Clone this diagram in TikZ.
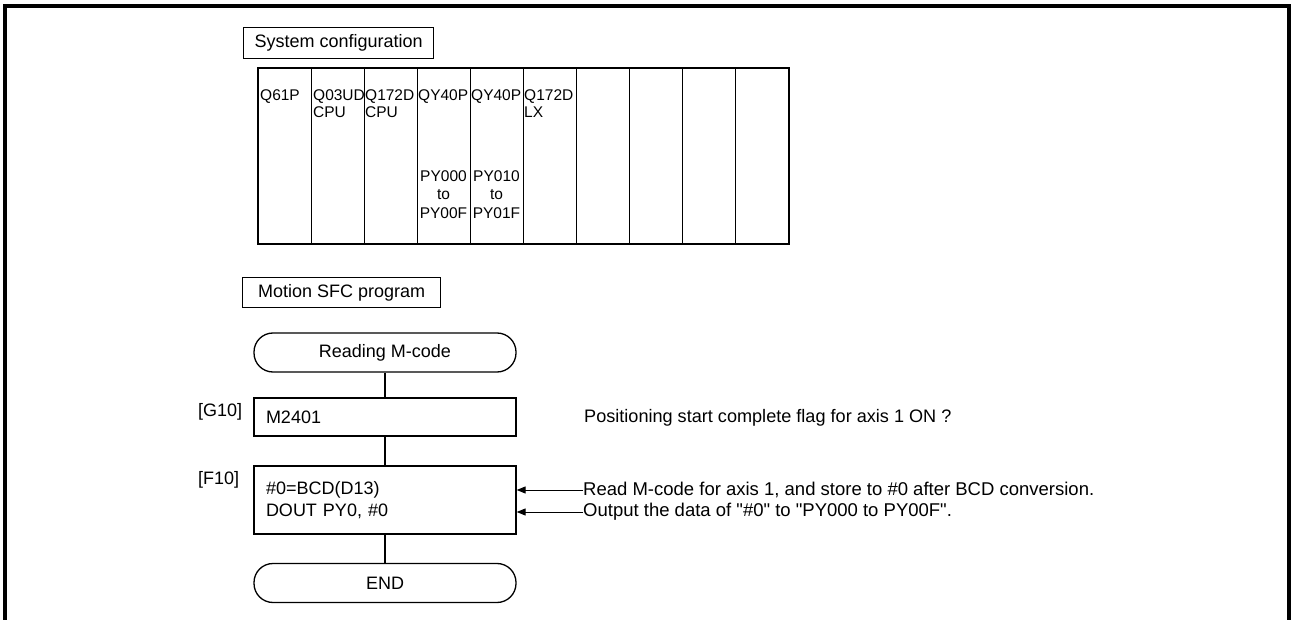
\documentclass[tikz,border=0pt]{standalone}
\usepackage{fontspec}
\setmainfont{Liberation Sans}[Ligatures=TeXOff]
\usetikzlibrary{arrows.meta}
\begin{document}
\begin{tikzpicture}[x=1pt,y=-1pt,
  every node/.style={font=\fontsize{18}{22}\selectfont, inner sep=0pt},
  titlebox/.style={draw, line width=1.3pt, minimum height=31pt},
  stepbox/.style={draw, line width=1.3pt, minimum width=262pt, text width=238pt, inner xsep=12pt, align=left},
  term/.style={draw, line width=1.3pt, rounded corners=19pt, minimum width=262pt, minimum height=39pt},
  cell/.style={draw, line width=1.2pt, minimum width=53pt, minimum height=175pt, anchor=north west},
  tbl/.style={font=\fontsize{15.5}{17}\selectfont, align=left, anchor=north west},
  outs/.style={font=\fontsize{15.5}{18.5}\selectfont, align=center, anchor=north},
  link/.style={line width=1.5pt},
  note/.style={anchor=west, font=\fontsize{18.5}{22}\selectfont},
  tip/.style={line width=1pt, -{Triangle[length=9pt,width=7pt]}}
]
\useasboundingbox (0,0) rectangle (1291,620);
\draw[line width=4pt] (5,624) -- (5,6) -- (1289,6) -- (1289,624);

% System configuration
\node[titlebox, minimum width=190pt, anchor=north west] (syscfg) at (243,27) {System configuration};
\foreach \i in {0,...,9} \node[cell] (c\i) at ({258+53*\i},68) {};
\draw[line width=1.8pt] (c0.north west) rectangle (c9.south east);
\node[tbl] (m1) at (260,89.5) {Q61P};
\node[tbl] (m2) at (313,89.5) {Q03UD\\CPU};
\node[tbl] (m3) at (365,89.5) {Q172D\\CPU};
\node[tbl] (m4) at (418,89.5) {QY40P};
\node[tbl] (m5) at (471,89.5) {QY40P};
\node[tbl] (m6) at (524,89.5) {Q172D\\LX};
\node[outs] (p4) at (443.5,170) {PY000\\to\\PY00F};
\node[outs] (p5) at (496.5,170) {PY010\\to\\PY01F};

% Motion SFC program
\node[titlebox, minimum width=198pt, minimum height=30pt, anchor=north west] (sfc) at (242,277) {Motion SFC program};
\node[term] (start) at (385,352.5) {Reading M-code};
\node[stepbox, minimum height=38pt] (g10) at (385,417) {M2401};
\node[stepbox, minimum height=68pt] (f10) at (385,500) {\#0=BCD(D13)\\DOUT PY0, \#0};
\node[term] (end) at (385,583) {END};
\node[anchor=base west] (lg) at (198,416) {[G10]};
\node[anchor=base west] (lf) at (198,484) {[F10]};
\draw[link] (start.south) -- (g10.north);
\draw[link] (g10.south) -- (f10.north);
\draw[link] (f10.south) -- (end.north);

% Notes
\node[note, font=\fontsize{18.1}{22}\selectfont] (n1) at (584,418) {Positioning start complete flag for axis 1 ON ?};
\node[note] (n2) at (583,490) {Read M-code for axis 1, and store to \#0 after BCD conversion.};
\node[note] (n3) at (583,512) {Output the data of "\#0" to "PY000 to PY00F".};
\draw[tip] (n2.west) -- (n2.west -| f10.east);
\draw[tip] (n3.west) -- (n3.west -| f10.east);
\end{tikzpicture}
\end{document}
